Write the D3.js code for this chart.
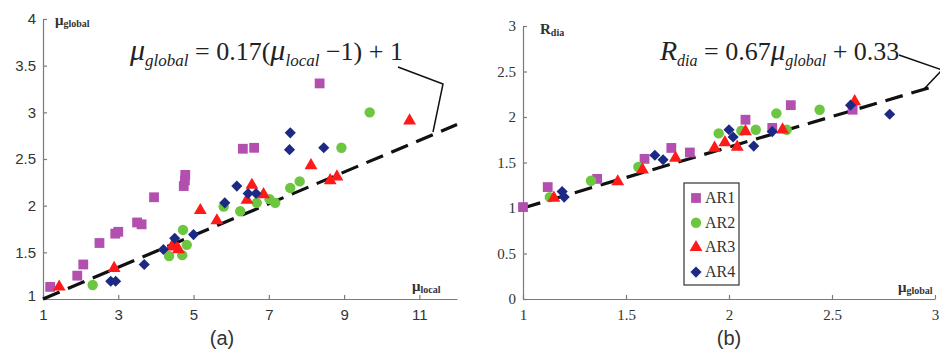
<!DOCTYPE html>
<html><head><meta charset="utf-8">
<script src="https://cdn.jsdelivr.net/npm/d3@7"></script>
<style>
html,body{margin:0;padding:0;background:#fff;}
svg{display:block;}
</style></head>
<body>
<svg id="c" width="940" height="354"></svg>
<script>
// ---------- DATA ----------
const seriesNames = ["AR1","AR2","AR3","AR4"];
// Panel (a): mu_local (x) vs mu_global (y)
const a_AR1 = [[1.19,1.13],[1.91,1.25],[2.07,1.37],[2.50,1.60],[2.92,1.70],[3.0,1.72],[3.5,1.82],[3.62,1.80],[3.95,2.09],[4.74,2.21],[4.77,2.27],[4.78,2.33],[6.31,2.61],[6.61,2.62],[8.35,3.31]];
const a_AR2 = [[2.32,1.15],[4.35,1.46],[4.70,1.47],[4.82,1.58],[4.72,1.74],[5.80,1.99],[6.24,1.94],[6.68,2.03],[7.02,2.07],[7.17,2.03],[7.57,2.19],[7.82,2.26],[8.93,2.62],[9.68,3.00]];
const a_AR3 = [[1.43,1.13],[2.89,1.33],[4.42,1.56],[4.50,1.58],[4.60,1.53],[5.18,1.95],[5.62,1.84],[6.42,2.06],[6.55,2.22],[6.86,2.12],[8.12,2.43],[8.63,2.27],[8.81,2.31],[10.74,2.91]];
const a_AR4 = [[2.80,1.19],[2.93,1.19],[3.69,1.37],[4.20,1.53],[4.50,1.65],[5.00,1.69],[5.83,2.03],[6.15,2.21],[6.45,2.13],[6.66,2.13],[7.55,2.60],[7.57,2.78],[8.46,2.62]];
// Panel (b): mu_global (x) vs R_dia (y)
const b_AR1 = [[1.00,1.01],[1.12,1.23],[1.36,1.32],[1.59,1.54],[1.72,1.66],[1.81,1.61],[2.08,1.97],[2.21,1.88],[2.30,2.13],[2.60,2.08]];
const b_AR2 = [[1.13,1.12],[1.33,1.30],[1.56,1.45],[1.95,1.82],[2.06,1.85],[2.13,1.86],[2.23,2.04],[2.28,1.86],[2.44,2.08]];
const b_AR3 = [[1.15,1.11],[1.46,1.29],[1.58,1.42],[1.74,1.55],[1.93,1.66],[1.98,1.72],[2.04,1.67],[2.08,1.84],[2.26,1.86],[2.61,2.17]];
const b_AR4 = [[1.19,1.18],[1.20,1.12],[1.64,1.58],[1.68,1.53],[2.00,1.86],[2.02,1.78],[2.12,1.68],[2.21,1.84],[2.59,2.13],[2.78,2.03]];
// fit lines
const fitA = {slope:0.17, x0:1, c:1};      // mu_g = 0.17(mu_l-1)+1
const fitB = {slope:0.67, c:0.33};         // R = 0.67 mu_g + 0.33
// ticks
const a_xTicks = [1,3,5,7,9,11];
const a_yTicks = [1,1.5,2,2.5,3,3.5,4];
const b_xTicks = [1,1.5,2,2.5,3];
const b_yTicks = [0,0.5,1,1.5,2,2.5,3];

const colors = ["#b34fae","#6cc63f","#ff1a1a","#1c2a83"];

// ---------- DRAW ----------
const svg = d3.select("#c");
const axisColor = "#7a7a7a";

function symbolPath(i){
  if(i===0) return d3.symbol(d3.symbolSquare, 96)();
  if(i===1) return d3.symbol(d3.symbolCircle, 85)();
  if(i===2) return d3.symbol(d3.symbolTriangle, 72)();
  return d3.symbol(d3.symbolSquare, 62)();
}

function drawPoints(g, x, y, sets){
  sets.forEach((pts,i)=>{
    g.selectAll(null).data(pts).enter().append("path")
      .attr("d", symbolPath(i))
      .attr("transform", d=>`translate(${x(d[0])},${y(d[1])})` + (i===3?" rotate(45)":""))
      .attr("fill", colors[i]);
  });
}

function styleAxis(g, font, size){
  g.select(".domain").attr("stroke", axisColor).attr("stroke-width",1.2);
  g.selectAll(".tick line").attr("stroke", axisColor).attr("stroke-width",1.2);
  g.selectAll(".tick text").attr("fill","#333").style("font-family",font).style("font-size",size+"px");
}

// Panel A
const ax = d3.scaleLinear().domain([1,12]).range([43,457]);
const ay = d3.scaleLinear().domain([1,4]).range([299,19]);
const gA = svg.append("g");
const axA = gA.append("g").attr("transform","translate(0,299)")
  .call(d3.axisBottom(ax).tickValues(a_xTicks).tickSizeInner(-4).tickSizeOuter(0).tickPadding(10).tickFormat(d3.format("d")));
styleAxis(axA, "Liberation Sans, Arial, sans-serif", 15);
const ayA = gA.append("g").attr("transform","translate(43,0)")
  .call(d3.axisLeft(ay).tickValues(a_yTicks).tickSizeInner(-4).tickSizeOuter(0).tickPadding(7).tickFormat(d=>d));
styleAxis(ayA, "Liberation Sans, Arial, sans-serif", 15);
ayA.selectAll(".tick text").filter(d=>d===1).attr("dy","0.1em");

// fit line A
const fa = d=> fitA.slope*(d-fitA.x0)+fitA.c;
gA.append("line").attr("x1",ax(1)).attr("y1",ay(fa(1))).attr("x2",ax(12)).attr("y2",ay(fa(12)))
  .attr("stroke","#111").attr("stroke-width",3.2).attr("stroke-dasharray","18,9");
drawPoints(gA, ax, ay, [a_AR1,a_AR2,a_AR3,a_AR4]);

// leader A
gA.append("polyline").attr("points","398,67 443,84 433,132").attr("fill","none").attr("stroke","#111").attr("stroke-width",1.5);

// formula A
const fA = gA.append("text").attr("x",130).attr("y",60).style("font-family","Liberation Serif, Times New Roman, serif").style("font-size","26px").attr("fill","#222");
fA.append("tspan").text("μ").style("font-style","italic").style("font-size","30px");
fA.append("tspan").text("global").style("font-style","italic").style("font-size","17px").attr("dy",6);
fA.append("tspan").text(" = 0.17(").attr("dy",-6);
fA.append("tspan").text("μ").style("font-style","italic").style("font-size","30px");
fA.append("tspan").text("local").style("font-style","italic").style("font-size","17px").attr("dy",6);
fA.append("tspan").text(" −1) + 1").attr("dy",-6);

// axis labels A
const labA = gA.append("text").attr("x",55).attr("y",25).style("font-family","Liberation Serif, serif").style("font-weight","bold").attr("fill","#333").style("font-size","15px");
labA.append("tspan").text("μ");
labA.append("tspan").text("global").style("font-size","10px").attr("dy",2);
const labA2 = gA.append("text").attr("x",412).attr("y",291).style("font-family","Liberation Serif, serif").style("font-weight","bold").attr("fill","#333").style("font-size","15px");
labA2.append("tspan").text("μ");
labA2.append("tspan").text("local").style("font-size","10px").attr("dy",2);
gA.append("text").attr("x",222).attr("y",345).attr("text-anchor","middle").style("font-family","Liberation Sans, Arial, sans-serif").style("font-size","20px").attr("fill","#333").text("(a)");

// Panel B
const bx = d3.scaleLinear().domain([1,3]).range([523,935]);
const by = d3.scaleLinear().domain([0,3]).range([299,26]);
const gB = svg.append("g");
const axB = gB.append("g").attr("transform","translate(0,299)")
  .call(d3.axisBottom(bx).tickValues(b_xTicks).tickSizeInner(-4).tickSizeOuter(0).tickPadding(10).tickFormat(d=>d));
styleAxis(axB, "Liberation Serif, Times New Roman, serif", 15);
const ayB = gB.append("g").attr("transform","translate(523,0)")
  .call(d3.axisLeft(by).tickValues(b_yTicks).tickSizeInner(-4).tickSizeOuter(0).tickPadding(7).tickFormat(d=>d));
styleAxis(ayB, "Liberation Serif, Times New Roman, serif", 15);

const fb = d=> fitB.slope*d+fitB.c;
gB.append("line").attr("x1",bx(1)).attr("y1",by(fb(1))).attr("x2",bx(3)).attr("y2",by(fb(3)))
  .attr("stroke","#111").attr("stroke-width",3.2).attr("stroke-dasharray","18,9");
drawPoints(gB, bx, by, [b_AR1,b_AR2,b_AR3,b_AR4]);

gB.append("polyline").attr("points","899,55 942,70 924,89").attr("fill","none").attr("stroke","#111").attr("stroke-width",1.5);

const fB = gB.append("text").attr("x",660).attr("y",60).style("font-family","Liberation Serif, Times New Roman, serif").style("font-size","26px").attr("fill","#222");
fB.append("tspan").text("R").style("font-style","italic").style("font-size","28px");
fB.append("tspan").text("dia").style("font-style","italic").style("font-size","16px").attr("dy",6);
fB.append("tspan").text(" = 0.67").attr("dy",-6);
fB.append("tspan").text("μ").style("font-style","italic").style("font-size","29px");
fB.append("tspan").text("global").style("font-style","italic").style("font-size","16px").attr("dy",6);
fB.append("tspan").text(" + 0.33").attr("dy",-6);

const labB = gB.append("text").attr("x",540).attr("y",34).style("font-family","Liberation Serif, serif").style("font-weight","bold").attr("fill","#333").style("font-size","15px");
labB.append("tspan").text("R");
labB.append("tspan").text("dia").style("font-size","10px").attr("dy",2);
const labB2 = gB.append("text").attr("x",898).attr("y",292).style("font-family","Liberation Serif, serif").style("font-weight","bold").attr("fill","#333").style("font-size","15px");
labB2.append("tspan").text("μ");
labB2.append("tspan").text("global").style("font-size","10px").attr("dy",2);
gB.append("text").attr("x",729).attr("y",345).attr("text-anchor","middle").style("font-family","Liberation Sans, Arial, sans-serif").style("font-size","20px").attr("fill","#333").text("(b)");

// legend
const lg = gB.append("g");
lg.append("rect").attr("x",684).attr("y",183).attr("width",55).attr("height",102).attr("fill","#fff").attr("stroke","#333").attr("stroke-width",1.2);
seriesNames.forEach((n,i)=>{
  const yy = 198 + i*24.7;
  lg.append("path").attr("d",symbolPath(i)).attr("fill",colors[i])
    .attr("transform",`translate(696,${yy})`+(i===3?" rotate(45)":""));
  lg.append("text").attr("x",705).attr("y",yy+5).style("font-family","Liberation Serif, serif").style("font-size","16px").attr("fill","#333").text(n);
});
</script>
</body></html>
